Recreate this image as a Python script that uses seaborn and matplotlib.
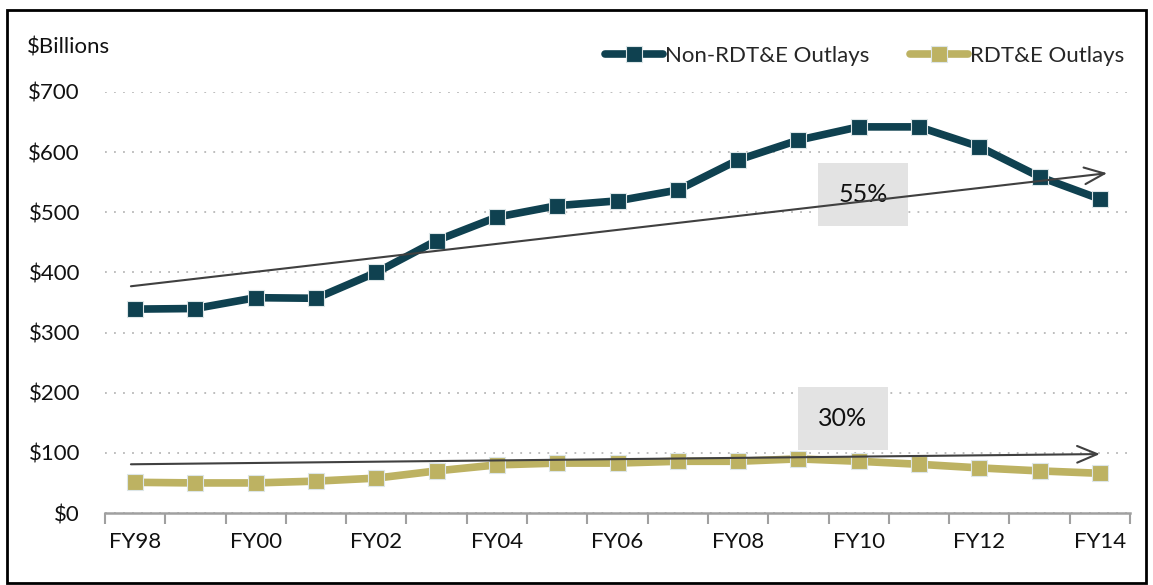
import pandas as pd
import matplotlib.pyplot as plt
import seaborn as sns
from matplotlib.patches import Rectangle

# datos (miles de millones de $)
years = ['FY98', 'FY99', 'FY00', 'FY01', 'FY02', 'FY03', 'FY04', 'FY05', 'FY06',
         'FY07', 'FY08', 'FY09', 'FY10', 'FY11', 'FY12', 'FY13', 'FY14']
non_rdte = [339, 340, 358, 357, 400, 453, 492, 511, 519, 537, 587, 620, 642, 642, 609, 559, 522]
rdte = [51, 50, 50, 53, 58, 70, 80, 83, 83, 86, 86, 90, 86, 81, 75, 70, 66]
yticks = [0, 100, 200, 300, 400, 500, 600, 700]

# tendencias (inicio, fin) y etiquetas
trend_non = (377, 565)
trend_rdte = (81, 98)
label_non = '55%'
label_rdte = '30%'

teal = '#0F4150'
gold = '#BDB262'

sns.set_theme(style='white')
plt.rcParams['font.family'] = ['Lato', 'DejaVu Sans']

df = pd.DataFrame({'Year': years, 'x': range(len(years)),
                   'Non-RDT&E Outlays': non_rdte, 'RDT&E Outlays': rdte})

fig = plt.figure(figsize=(11.53, 5.85), dpi=100)
ax = fig.add_axes([105 / 1153, 1 - 513 / 585, 1025 / 1153, 421 / 585])

for col, c in [('Non-RDT&E Outlays', teal), ('RDT&E Outlays', gold)]:
    sns.lineplot(data=df, x='x', y=col, ax=ax, color=c, linewidth=5.5, marker='s',
                 markersize=11, markeredgecolor='#DDE6E8', markeredgewidth=0.8,
                 label=col, clip_on=False, zorder=3)

ax.set_xlim(-0.5, len(years) - 0.5)
ax.set_ylim(0, 700)
ax.set_yticks(yticks)
ax.set_yticklabels(['${}'.format(v) for v in yticks])
ax.yaxis.grid(True, linestyle=(0, (1, 4)), color='#B8B8B8', linewidth=1.3)
ax.xaxis.grid(False)
ax.tick_params(axis='y', length=0, pad=18, labelsize=16, labelcolor='#111111')

# ticks en los limites de categoria, etiquetas cada 2 años
ax.set_xticks([i - 0.5 for i in range(len(years) + 1)])
ax.set_xticklabels([])
ax.set_xticks(range(0, len(years), 2), minor=True)
ax.set_xticklabels(years[::2], minor=True)
ax.tick_params(axis='x', which='major', bottom=True, length=8, width=1.5, color='#A0A0A0',
               direction='out')
ax.tick_params(axis='x', which='minor', bottom=True, length=0, pad=14, labelsize=16,
               labelcolor='#111111')
ax.set_xlabel('')
ax.set_ylabel('')

for s in ['top', 'right', 'left']:
    ax.spines[s].set_visible(False)
ax.spines['bottom'].set_color('#A0A0A0')
ax.spines['bottom'].set_linewidth(1.8)

# flechas de tendencia
n = len(years) - 1
ax.annotate('', xy=(n + 0.12, trend_non[1]), xytext=(-0.07, trend_non[0]),
            arrowprops=dict(arrowstyle='->,head_length=1.2,head_width=0.5', color='#404040', lw=1.5,
                            shrinkA=0, shrinkB=0), zorder=4)
ax.annotate('', xy=(n, trend_rdte[1]), xytext=(-0.07, trend_rdte[0]),
            arrowprops=dict(arrowstyle='->,head_length=1.2,head_width=0.5', color='#404040', lw=1.5,
                            shrinkA=0, shrinkB=0), zorder=4)

ax.text(12.07, 530, label_non, fontsize=18, ha='center', va='center', color='#111111', zorder=2,
        bbox=dict(boxstyle='square,pad=0.8', facecolor='#E3E3E3', edgecolor='none'))
ax.text(11.74, 157, label_rdte, fontsize=18, ha='center', va='center', color='#111111', zorder=2,
        bbox=dict(boxstyle='square,pad=0.8', facecolor='#E3E3E3', edgecolor='none'))

leg = ax.legend(loc='center right', bbox_to_anchor=(1133 / 1153, 1 - 56 / 585),
                bbox_transform=fig.transFigure, ncol=2, frameon=False, fontsize=16,
                handlelength=2.6, handletextpad=0.1, columnspacing=1.8, borderaxespad=0)

fig.text(27 / 1153, 1 - 48 / 585, '$Billions', fontsize=16, ha='left', va='center', color='#111111')

fig.patches.append(Rectangle((7 / 1153, 2 / 585), 1 - 14 / 1153, 1 - 12 / 585,
                             transform=fig.transFigure, fill=False, edgecolor='black', linewidth=2))

fig.savefig('out.png', dpi=100)
